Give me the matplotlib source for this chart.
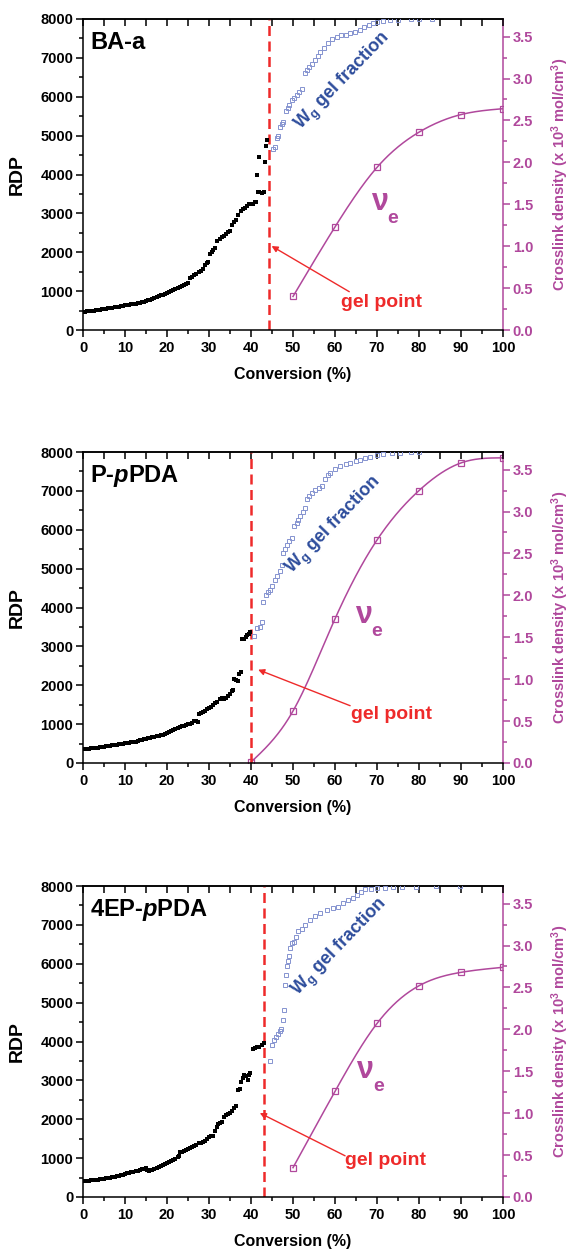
import numpy as np
import matplotlib
matplotlib.use("Agg")
import matplotlib.pyplot as plt
from matplotlib.ticker import MultipleLocator, FormatStrFormatter

plt.rcParams['font.family'] = ['Liberation Sans', 'DejaVu Sans']
plt.rcParams['font.weight'] = 'bold'
plt.rcParams['mathtext.fontset'] = 'custom'
plt.rcParams['mathtext.rm'] = 'Liberation Sans:bold'
plt.rcParams['mathtext.bf'] = 'Liberation Sans:bold'
plt.rcParams['mathtext.it'] = 'Liberation Sans:italic:bold'

# ---------------- data ----------------
titles = ["BA-a", "P-$\\it{p}$PDA", "4EP-$\\it{p}$PDA"]
gel_points = [44.4, 40.1, 43.1]

ba_rdp = [(0, 460), (0.5, 468), (1, 476), (1.5, 484), (2, 492), (2.5, 500), (3, 508), (3.5, 516),
          (4, 525), (4.5, 533), (5, 542), (5.5, 550), (6, 560), (6.5, 568), (7, 578), (7.5, 586),
          (8, 596), (8.5, 604), (9, 614), (9.5, 622), (10, 632), (10.5, 640), (11, 650), (11.5, 658),
          (12, 668), (12.5, 678), (13, 690), (13.5, 700), (14, 712), (14.5, 725), (15, 740), (15.5, 760),
          (16, 780), (16.5, 805), (17, 830), (17.5, 850), (18, 870), (18.5, 890), (19, 905), (19.5, 925),
          (20, 945), (20.5, 970), (21, 995), (21.5, 1020), (22, 1050), (22.5, 1080), (23, 1100),
          (23.5, 1130), (24, 1160), (24.5, 1190), (25, 1220), (25.5, 1340), (26, 1370), (26.5, 1410),
          (27, 1450), (27.5, 1480), (28, 1520), (28.5, 1580), (29, 1680), (29.5, 1720), (29.8, 1760),
          (30.2, 1950), (30.6, 2000), (31, 2050), (31.5, 2120), (32, 2300), (32.5, 2330), (33, 2380),
          (33.5, 2430), (34, 2480), (34.5, 2520), (35, 2540), (35.5, 2700), (36, 2780), (36.5, 2830),
          (37, 2950), (37.5, 3050), (38, 3100), (38.5, 3150), (39, 3200), (39.5, 3230), (40, 3250),
          (40.5, 3240), (41, 3280), (41.3, 3300), (41.6, 3550), (42, 3560), (42.5, 3520), (43, 3560),
          (41.5, 4000), (41.8, 4450), (43.3, 4320), (43.5, 4740), (43.9, 4880)]
ba_wg = [(45.3, 4650), (45.7, 4700), (46.1, 4950), (46.5, 5000), (46.9, 5230), (47.3, 5300),
         (47.7, 5360), (48.3, 5640), (48.7, 5700), (49.1, 5790), (49.7, 5920), (50.3, 5960),
         (50.9, 6045), (51.5, 6120), (52.1, 6190), (52.9, 6620), (53.3, 6700), (53.7, 6770),
         (54.5, 6850), (55.3, 6945), (55.9, 7050), (56.5, 7160), (57.3, 7260), (58.4, 7390),
         (59.4, 7480), (60.4, 7545), (61.5, 7580), (62.5, 7600), (63.6, 7630), (64.8, 7670),
         (66, 7715), (67, 7790), (68, 7845), (69, 7900), (69.9, 7930), (71.5, 7955), (73, 7975),
         (75, 7985), (78, 7990), (80, 7995), (83, 8000)]
ba_nu_conv = [50, 60, 70, 80, 90, 100]
ba_nu = [0.40, 1.23, 1.94, 2.36, 2.57, 2.64]

pp_rdp = [(0, 350), (0.5, 355), (1, 362), (1.5, 368), (2, 375), (2.5, 382), (3, 390), (3.5, 398),
          (4, 405), (4.5, 413), (5, 420), (5.5, 428), (6, 435), (6.5, 443), (7, 452), (7.5, 460),
          (8, 468), (8.5, 476), (9, 485), (9.5, 494), (10, 502), (10.5, 510), (11, 518), (11.5, 528),
          (12, 540), (12.5, 552), (13, 565), (13.5, 580), (14, 595), (14.5, 610), (15, 625), (15.5, 640),
          (16, 652), (16.5, 665), (17, 675), (17.5, 688), (18, 700), (18.5, 715), (19, 730), (19.5, 750),
          (20, 770), (20.5, 790), (21, 830), (21.5, 860), (22, 880), (22.5, 900), (23, 920), (23.5, 940),
          (24, 955), (24.5, 975), (25, 995), (25.5, 1010), (26, 1040), (26.5, 1070), (27, 1090),
          (27.3, 1060), (27.6, 1250), (28, 1280), (28.5, 1320), (29, 1350), (29.5, 1380), (30, 1410),
          (30.5, 1440), (31, 1500), (31.5, 1540), (32, 1560), (32.5, 1640), (33, 1660), (33.5, 1650),
          (34, 1680), (34.5, 1720), (35, 1780), (35.5, 1850), (35.8, 1880), (36, 2150), (36.4, 2130),
          (36.8, 2100), (37.2, 2280), (37.6, 2330), (37.9, 3180), (38.3, 3200), (38.7, 3250),
          (39.1, 3280), (39.5, 3320), (39.8, 3360)]
pp_wg = [(40.8, 3260), (41.5, 3480), (42.2, 3500), (42.6, 3620), (42.9, 4150), (43.5, 4330),
         (44, 4400), (44.5, 4460), (45, 4560), (45.7, 4715), (46.3, 4800), (46.9, 4930), (47.3, 5100),
         (47.7, 5400), (48.1, 5500), (48.5, 5620), (49.1, 5700), (49.7, 5790), (50.3, 6100),
         (50.9, 6170), (51.3, 6250), (51.7, 6350), (52.3, 6450), (52.9, 6560), (53.3, 6780),
         (53.7, 6860), (54.5, 6950), (55.3, 7030), (56.1, 7080), (56.9, 7120), (57.7, 7300),
         (58.3, 7400), (58.9, 7460), (60, 7560), (61.3, 7650), (62.5, 7690), (63.6, 7720), (65, 7770),
         (66, 7800), (67.2, 7840), (68.4, 7860), (70, 7910), (71.5, 7955), (73.5, 7975), (75.5, 7985),
         (78, 7990), (80, 7995)]
pp_nu_conv = [40, 50, 60, 70, 80, 90, 100]
pp_nu = [0.01, 0.62, 1.72, 2.66, 3.25, 3.58, 3.64]

ep_rdp = [(0, 402), (0.5, 408), (1, 415), (1.5, 420), (2, 428), (2.5, 435), (3, 442), (3.5, 450),
          (4, 458), (4.5, 465), (5, 472), (5.5, 480), (6, 490), (6.5, 500), (7, 512), (7.5, 525),
          (8, 538), (8.5, 550), (9, 562), (9.5, 575), (10, 590), (10.5, 605), (11, 620), (11.5, 635),
          (12, 650), (12.5, 665), (13, 680), (13.5, 695), (14, 712), (14.5, 730), (15, 750),
          (15.3, 690), (15.7, 680), (16, 695), (16.5, 700), (17, 720), (17.5, 740), (18, 780),
          (18.5, 800), (19, 820), (19.5, 840), (20, 870), (20.5, 900), (21, 930), (21.5, 960),
          (22, 990), (22.5, 1030), (22.8, 1050), (23, 1160), (23.5, 1170), (24, 1190), (24.5, 1220),
          (25, 1240), (25.5, 1260), (26, 1290), (26.5, 1320), (27, 1350), (27.5, 1380), (28, 1400),
          (28.5, 1420), (29, 1450), (29.5, 1500), (30, 1540), (30.5, 1560), (31, 1580), (31.4, 1700),
          (31.8, 1800), (32.2, 1880), (32.6, 1900), (33, 1920), (33.5, 2050), (34, 2100), (34.5, 2130),
          (35, 2160), (35.5, 2200), (36, 2300), (36.5, 2350), (37, 2750), (37.3, 2780), (37.7, 2950),
          (38, 3050), (38.4, 3150), (38.8, 3100), (39.2, 3000), (39.5, 3150), (39.8, 3200),
          (40.5, 3800), (41, 3820), (41.5, 3850), (42, 3870), (42.5, 3900), (43, 3950)]
ep_wg = [(44.6, 3500), (45, 3920), (45.5, 4030), (46, 4120), (46.4, 4200), (46.8, 4270), (47.2, 4330),
         (47.6, 4550), (47.8, 4800), (48.1, 5450), (48.3, 5700), (48.6, 5930), (48.9, 6060),
         (49.1, 6190), (49.4, 6400), (49.7, 6530), (50.2, 6560), (50.7, 6700), (51.3, 6830),
         (52.1, 6900), (52.9, 7000), (54, 7120), (55.3, 7230), (56.5, 7300), (58, 7390), (59.5, 7430),
         (60.8, 7470), (62, 7560), (63.2, 7640), (64.2, 7700), (65.2, 7770), (66.2, 7850), (67.1, 7920),
         (68.5, 7935), (69.9, 7945), (72, 7960), (73.9, 7970), (76, 7978), (79.4, 7985), (84, 7992),
         (89.8, 8000)]
ep_nu_conv = [50, 60, 70, 80, 90, 100]
ep_nu = [0.35, 1.26, 2.07, 2.52, 2.68, 2.74]

rdp_sets = [ba_rdp, pp_rdp, ep_rdp]
wg_sets = [ba_wg, pp_wg, ep_wg]
nu_conv_sets = [ba_nu_conv, pp_nu_conv, ep_nu_conv]
nu_sets = [ba_nu, pp_nu, ep_nu]

# annotation positions (data coords on left axis)
wg_label_pos = [(61.9, 6380), (59.8, 6100), (61.2, 6410)]
nu_label_pos = [(70.6, 3300), (66.7, 3810), (67.1, 3270)]
gel_text_pos = [(71.0, 700), (73.5, 1240), (72.1, 930)]
arrow_tail = [(63.4, 985), (63.6, 1474), (62.4, 1060)]
arrow_head = [(44.9, 2160), (41.7, 2400), (42.1, 2160)]

PINK = '#b0489c'
BLUE = '#2e4d9c'
LBLUE = '#8593d0'
RED = '#ee2a2a'


def spline_curve(xs, ys, num=300):
    x = np.asarray(xs, float)
    y = np.asarray(ys, float)
    n = len(x)
    h = np.diff(x)
    A = np.zeros((n, n))
    b = np.zeros(n)
    A[0, 0] = 1
    A[-1, -1] = 1
    for i in range(1, n - 1):
        A[i, i - 1] = h[i - 1]
        A[i, i] = 2 * (h[i - 1] + h[i])
        A[i, i + 1] = h[i]
        b[i] = 6 * ((y[i + 1] - y[i]) / h[i] - (y[i] - y[i - 1]) / h[i - 1])
    M = np.linalg.solve(A, b)
    t = np.linspace(x[0], x[-1], num)
    i = np.clip(np.searchsorted(x, t) - 1, 0, n - 2)
    hi = h[i]
    s = (M[i] * (x[i + 1] - t) ** 3 / (6 * hi) + M[i + 1] * (t - x[i]) ** 3 / (6 * hi)
         + (y[i] / hi - M[i] * hi / 6) * (x[i + 1] - t) + (y[i + 1] / hi - M[i + 1] * hi / 6) * (t - x[i]))
    return t, s


W, H = 571, 1250
fig = plt.figure(figsize=(W / 100, H / 100), dpi=100)
tops = [19, 452, 886]
ax_h = 311
left_px, ax_w = 83, 420

for k in range(3):
    rect = [left_px / W, 1 - (tops[k] + ax_h) / H, ax_w / W, ax_h / H]
    ax = fig.add_axes(rect)
    ax2 = ax.twinx()

    cx, cy = zip(*rdp_sets[k])
    ax.plot(cx, cy, 's', color='black', ms=2.6, mew=0, zorder=3)
    wx, wy = zip(*wg_sets[k])
    ax.plot(wx, wy, 's', mfc='none', mec=LBLUE, ms=3.2, mew=0.7, zorder=3)
    ax.axvline(gel_points[k], color=RED, lw=1.8, dashes=(4, 2.2), zorder=2)

    ax.set_xlim(0, 100)
    ax.set_ylim(0, 8000)
    ax.xaxis.set_major_locator(MultipleLocator(10))
    ax.xaxis.set_minor_locator(MultipleLocator(5))
    ax.yaxis.set_major_locator(MultipleLocator(1000))
    ax.yaxis.set_minor_locator(MultipleLocator(500))
    ax.tick_params(axis='both', which='major', direction='out', length=5, width=1.1, labelsize=10.5)
    ax.tick_params(axis='both', which='minor', direction='out', length=3, width=1.1)
    ax.tick_params(axis='x', pad=3)
    ax.tick_params(axis='y', pad=2)
    for sp in ['left', 'bottom', 'top']:
        ax.spines[sp].set_linewidth(1.1)
    ax.spines['right'].set_visible(False)

    sec = ax.secondary_xaxis('top')
    sec.xaxis.set_major_locator(MultipleLocator(10))
    sec.xaxis.set_minor_locator(MultipleLocator(5))
    sec.tick_params(axis='x', which='both', direction='in', labeltop=False, width=1.1, length=5)
    sec.spines['top'].set_linewidth(1.1)

    ax.set_ylabel('RDP', fontsize=14, fontweight='bold')
    ax.yaxis.set_label_coords(-0.137, 0.5)
    ax.set_xlabel('Conversion (%)', fontsize=11.5, fontweight='bold')
    ax.xaxis.set_label_coords(0.5, -0.118)

    # right axis
    nx, ny = nu_conv_sets[k], nu_sets[k]
    tx, ty = spline_curve(nx, ny)
    ax2.plot(tx, ty, '-', color=PINK, lw=1.1, zorder=4)
    ax2.plot(nx, ny, 's', mfc='none', mec=PINK, ms=4.2, mew=0.9, zorder=5)
    ax2.set_ylim(0, 3.71)
    ax2.yaxis.set_major_locator(MultipleLocator(0.5))
    ax2.yaxis.set_minor_locator(MultipleLocator(0.25))
    ax2.yaxis.set_major_formatter(FormatStrFormatter('%.1f'))
    ax2.tick_params(axis='y', which='major', direction='out', length=5, width=1.1,
                    colors=PINK, labelsize=10.5, pad=2)
    ax2.tick_params(axis='y', which='minor', direction='out', length=3, width=1.1, colors=PINK)
    for sp in ['left', 'bottom', 'top']:
        ax2.spines[sp].set_visible(False)
    ax2.spines['right'].set_color(PINK)
    ax2.spines['right'].set_linewidth(1.1)
    ax2.set_ylabel('Crosslink density (x 10$^3$ mol/cm$^3$)', color=PINK,
                   fontsize=10.5, fontweight='bold')
    ax2.yaxis.set_label_coords(1.111, 0.5)

    # texts
    ax.text(0.0167, 0.904, titles[k], transform=ax.transAxes, ha='left', va='baseline',
            fontsize=17, fontweight='bold', zorder=6)
    ax.text(*wg_label_pos[k], 'W$_\\mathrm{g}$ gel fraction', color=BLUE, fontsize=13,
            fontweight='bold', rotation=46, rotation_mode='anchor', ha='center', va='center', zorder=6)
    nxp, nyp = nu_label_pos[k]
    ax.text(nxp, nyp, '\u03bd', color=PINK, fontsize=22, fontweight='bold',
            ha='center', va='center', zorder=6)
    ax.text(nxp + 3.2, nyp - 420, 'e', color=PINK, fontsize=14, fontweight='bold',
            ha='center', va='center', zorder=6)
    ax.text(*gel_text_pos[k], 'gel point', color=RED, fontsize=14, fontweight='bold',
            ha='center', va='center', zorder=6)
    ax.annotate('', xy=arrow_head[k], xytext=arrow_tail[k],
                arrowprops=dict(arrowstyle='-|>', color=RED, lw=1.0, mutation_scale=9,
                                shrinkA=0, shrinkB=0), zorder=6)
    ax.set_zorder(ax2.get_zorder() + 1)
    ax.patch.set_visible(False)

fig.savefig('out.png', dpi=100)
